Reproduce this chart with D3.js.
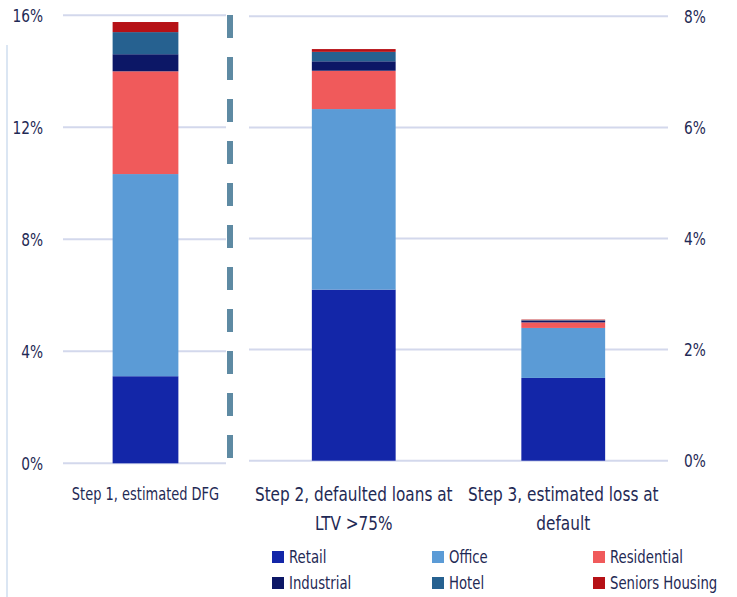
<!DOCTYPE html>
<html>
<head>
<meta charset="utf-8">
<script src="https://cdn.jsdelivr.net/npm/d3@7"></script>
<style>
  body { margin: 0; background: #fff; }
  svg text { font-family: "DejaVu Sans Condensed", "Liberation Sans Narrow", sans-serif; fill: #1f2a55; }
</style>
</head>
<body>
<svg width="737" height="597"></svg>
<script>
// series, bottom to top
var sectors = ["Retail", "Office", "Residential", "Industrial", "Hotel", "Seniors Housing"];
var colors  = ["#1326a8", "#5b9bd6", "#f05a5b", "#0c1766", "#266190", "#b61116"];

// left panel (0-16%)
var leftCats = [["Step 1, estimated DFG"]];
var leftVals = [[3.11, 7.22, 3.67, 0.61, 0.79, 0.36]];
var leftTicks = [0, 4, 8, 12, 16];

// right panel (0-8%)
var rightCats = [["Step 2, defaulted loans at", "LTV >75%"], ["Step 3, estimated loss at", "default"]];
var rightVals = [
  [3.08, 3.25, 0.69, 0.17, 0.17, 0.05],
  [1.49, 0.90, 0.10, 0.03, 0.01, 0.01]
];
var rightTicks = [0, 2, 4, 6, 8];

var svg = d3.select("svg");
var color = d3.scaleOrdinal().domain(sectors).range(colors);

// the source font is a narrow DIN-like face, squeeze DejaVu Condensed horizontally
function narrow(sel, k) {
  sel.each(function() {
    var t = d3.select(this);
    var x = +t.attr("x") || 0, y = +t.attr("y") || 0;
    t.attr("x", 0).attr("y", 0)
      .attr("transform", "translate(" + x + "," + y + ") scale(" + k + ",1)");
  });
}

// thin light line on the far left
svg.append("line")
  .attr("x1", 7).attr("x2", 7).attr("y1", 45).attr("y2", 597)
  .attr("stroke", "#dbe6f3").attr("stroke-width", 2);

function stackRows(vals) {
  return vals.map(function(row) {
    var y0 = 0;
    return row.map(function(v, i) {
      var seg = { key: sectors[i], y0: y0, y1: y0 + v };
      y0 += v;
      return seg;
    });
  });
}

function panel(opts) {
  var x = d3.scaleBand().domain(d3.range(opts.cats.length))
    .range(opts.xr).paddingInner(opts.pi).paddingOuter(opts.po);
  var y = d3.scaleLinear().domain(opts.yd).range(opts.yr);

  var g = svg.append("g");

  g.selectAll(".grid").data(opts.ticks).enter().append("line")
    .attr("x1", opts.gx[0]).attr("x2", opts.gx[1])
    .attr("y1", d => y(d)).attr("y2", d => y(d))
    .attr("stroke", "#d3d8ec").attr("stroke-width", 2);

  g.selectAll(".tick").data(opts.ticks).enter().append("text")
    .attr("x", opts.tx)
    .attr("y", d => y(d))
    .attr("dy", "0.36em")
    .attr("text-anchor", opts.anchor)
    .style("font-size", "18px")
    .text(d => d + "%")
    .call(narrow, 0.85);

  var stacks = stackRows(opts.vals);
  g.selectAll(".bar").data(stacks).enter().append("g")
    .attr("transform", (d, i) => "translate(" + x(i) + ",0)")
    .selectAll("rect").data(d => d).enter().append("rect")
      .attr("x", 0)
      .attr("width", x.bandwidth())
      .attr("y", d => y(d.y1))
      .attr("height", d => y(d.y0) - y(d.y1))
      .attr("fill", d => color(d.key));

  opts.cats.forEach(function(lines, i) {
    lines.forEach(function(l, j) {
      g.append("text")
        .attr("x", x(i) + x.bandwidth() / 2)
        .attr("y", opts.ly + j * 29)
        .attr("text-anchor", "middle")
        .style("font-size", opts.lfs)
        .text(l)
        .call(narrow, 0.85);
    });
  });
}

panel({
  cats: leftCats, vals: leftVals, ticks: leftTicks,
  xr: [63, 228], pi: 0.43, po: 0.43,
  yd: [0, 16], yr: [463.3, 15.3],
  gx: [63, 226], tx: 43, anchor: "end",
  ly: 500, lfs: "17px"
});

panel({
  cats: rightCats, vals: rightVals, ticks: rightTicks,
  xr: [249, 668], pi: 0.6, po: 0.3,
  yd: [0, 8], yr: [460.7, 16.3],
  gx: [249, 668], tx: 684, anchor: "start",
  ly: 501, lfs: "20px"
});

// dashed divider between the panels
svg.append("line")
  .attr("x1", 230).attr("x2", 230).attr("y1", 15).attr("y2", 460)
  .attr("stroke", "#5e8aa3").attr("stroke-width", 6)
  .attr("stroke-dasharray", "23,19");

// legend
var legX = [272, 432, 593], legY = [557, 583];
var leg = svg.append("g").selectAll("g").data(sectors).enter().append("g")
  .attr("transform", (d, i) => "translate(" + legX[i % 3] + "," + legY[Math.floor(i / 3)] + ")");
leg.append("rect").attr("x", 0).attr("y", -6).attr("width", 12).attr("height", 12)
  .attr("fill", d => color(d));
leg.append("text").attr("x", 17).attr("y", 0).attr("dy", "0.36em")
  .style("font-size", "18px").text(d => d)
  .call(narrow, 0.82);
</script>
</body>
</html>
